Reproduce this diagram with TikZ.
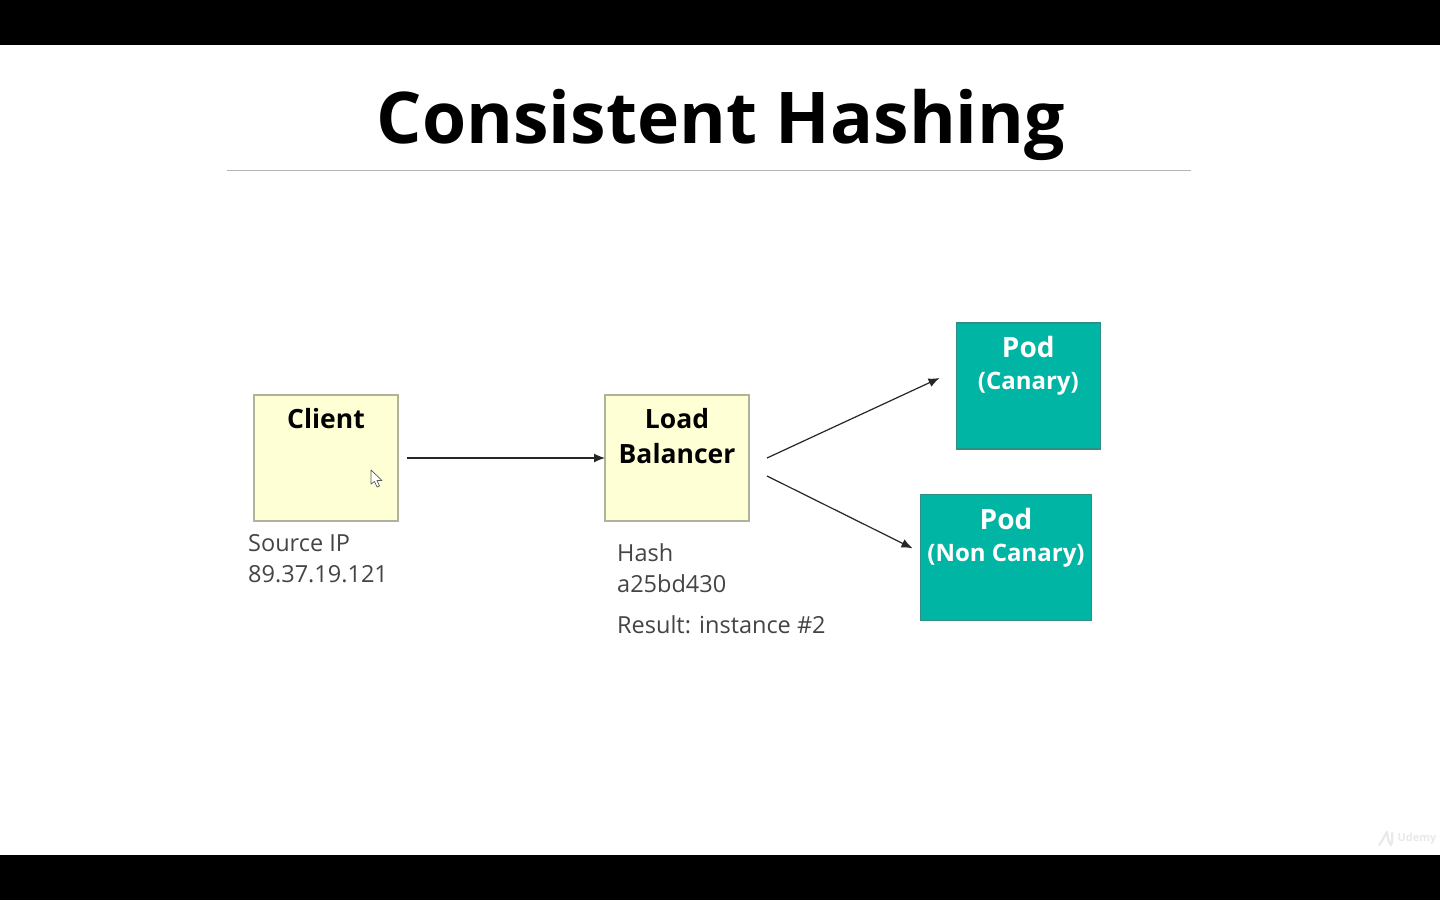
\documentclass[tikz,border=0pt]{standalone}
\usepackage{fontspec}
\setmainfont{Open Sans}
\usetikzlibrary{arrows.meta}
\definecolor{paleyellow}{HTML}{FFFFD5}
\definecolor{yellowedge}{HTML}{AEB39A}
\definecolor{teal1}{HTML}{00B5A3}
\definecolor{tealedge}{HTML}{2F8F85}
\definecolor{labelgray}{HTML}{444444}
\definecolor{linegray}{HTML}{B5B5B5}
\definecolor{wmark}{HTML}{E9E9E9}
\newcommand{\boxtext}[4]{\parbox[t][#2pt][t]{#1pt}{\centering\vspace*{#3pt}#4}}
\tikzset{
  x=1pt,y=-1pt,
  yellowbox/.style={draw=yellowedge,line width=1.1pt,fill=paleyellow,inner sep=0pt,outer sep=0pt,text=black,font=\fontsize{26.5}{34.5}\selectfont\bfseries},
  podbox/.style={draw=tealedge,line width=1.1pt,fill=teal1,inner sep=0pt,outer sep=0pt,text=white,font=\fontsize{24}{32}\selectfont\bfseries},
  caption/.style={anchor=north west,inner sep=0pt,text=labelgray,align=left,font=\fontsize{23.5}{31}\selectfont},
  link/.style={draw=black!85,line width=1.2pt,-{Latex[length=11pt,width=9pt]}},
}
\newcommand{\podtext}[2]{{\fontsize{28}{32}\selectfont #1}\\{#2}}
\begin{document}
\begin{tikzpicture}
\useasboundingbox (0,0) rectangle (1440,900);
\fill[white] (0,0) rectangle (1440,900);
\fill[black] (0,0) rectangle (1440,45);
\fill[black] (0,855) rectangle (1440,900);
\node[inner sep=0pt,text=black,font=\fontsize{71.4}{80}\selectfont\bfseries] (title) at (721,125) {Consistent Hashing};
\coordinate (ruleL) at (227,170);
\coordinate (ruleR) at (1191,170);
\draw[linegray,line width=1pt] (ruleL) -- (ruleR);
\node[yellowbox] (client) at (326,458) {\boxtext{144}{126}{13.5}{Client}};
\node[yellowbox] (lb) at (677,458) {\boxtext{144}{126}{13.5}{Load\\Balancer}};
\node[podbox] (canary) at (1028.3,386) {\boxtext{143.5}{126}{13.5}{\podtext{Pod}{(Canary)}}};
\node[podbox] (noncanary) at (1006,557.3) {\boxtext{171}{125.5}{13.5}{\podtext{Pod}{(Non Canary)}}};
\node[caption] (srcip) at (248,534) {Source IP\\89.37.19.121};
\node[caption] (hash) at (617,543) {Hash\\a25bd430};
\node[caption] (result) at (617,615) {Result: instance \#2};
\coordinate (out1) at ([xshift=18pt]lb.east);
\coordinate (out2) at ([xshift=18pt,yshift=-18pt]lb.east);
\coordinate (in1) at ([xshift=-17pt,yshift=8pt]canary.west);
\coordinate (in2) at ([xshift=-8pt,yshift=9pt]noncanary.west);
\draw[link,shorten <=9pt] (client.east) -- (lb.west);
\draw[link] (out1) -- (in1);
\draw[link] (out2) -- (in2);
% mouse cursor
\draw[fill=white,draw=black!65,line width=0.7pt,line join=round] (371,470) -- (371,484) -- (374.5,481.5) -- (377,487) -- (379.5,486) -- (377,480.5) -- (382,480.5) -- cycle;
% faint watermark
\draw[wmark,line width=2.2pt,line cap=round,line join=round] (1379,845) .. controls (1382,842) and (1384,836) .. (1387,832) .. controls (1388,840) and (1389,843) .. (1391,845) .. controls (1393,840) and (1392,836) .. (1392,833);
\node[inner sep=0pt,text=wmark,font=\fontsize{11}{11}\selectfont\bfseries] (wm) at (1417,839) {Udemy};
\end{tikzpicture}
\end{document}
